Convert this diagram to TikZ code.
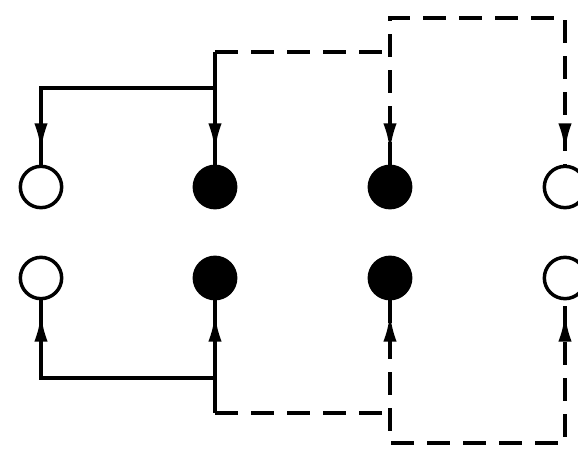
\documentclass[tikz,border=0pt]{standalone}
\usetikzlibrary{arrows.meta,decorations.markings}

\tikzset{
  pinopen/.style={circle,draw,line width=2.6pt,minimum size=31pt,inner sep=0pt,fill=white},
  pinfull/.style={pinopen,fill=black},
  wire/.style={line width=3pt},
  wiredashed/.style={wire,dash pattern=on 17pt off 10pt},
  tipin/.style={postaction={decorate},decoration={markings,
      mark=at position -10pt with {\arrow{Latex[length=21pt,width=10pt]}}}},
  tipboth/.style={postaction={decorate},decoration={markings,
      mark=at position 10pt with {\arrowreversed{Latex[length=21pt,width=10pt]}},
      mark=at position -10pt with {\arrow{Latex[length=21pt,width=10pt]}}}},
}

\begin{document}
\begin{tikzpicture}[x=0.75pt,y=0.75pt,yscale=-1,xscale=1]
\useasboundingbox (0,0) rectangle (578,449);

% upper row
\node (t1) [pinopen] at (41,187) {};
\node (t2) [pinfull] at (215,187) {};
\node (t3) [pinfull] at (390,187) {};
\node (t4) [pinopen] at (565,187) {};
% lower row
\node (b1) [pinopen] at (41,278) {};
\node (b2) [pinfull] at (215,278) {};
\node (b3) [pinfull] at (390,278) {};
\node (b4) [pinopen] at (565,278) {};

% corner points
\coordinate (ta) at (215,88);
\coordinate (tb) at (215,52);
\coordinate (tc) at (390,52);
\coordinate (td) at (390,18);
\coordinate (ba) at (215,378);
\coordinate (bb) at (215,413);
\coordinate (bc) at (390,413);
\coordinate (bd) at (390,443);

% solid feeds
\draw [wire,tipin] (ta) -| (t1.north);
\draw [wire,tipin] (tb) -- (t2.north);
\draw [wire,tipin] (ba) -| (b1.south);
\draw [wire,tipin] (bb) -- (b2.south);

% dashed feeds
\draw [wiredashed] (tb) -- (tc);
\draw [wiredashed,tipboth] (t3.north) -- (td) -| (t4.north);
\draw [wiredashed] (bb) -- (bc);
\draw [wiredashed,tipboth] (b3.south) -- (bd) -| (b4.south);

\end{tikzpicture}
\end{document}
